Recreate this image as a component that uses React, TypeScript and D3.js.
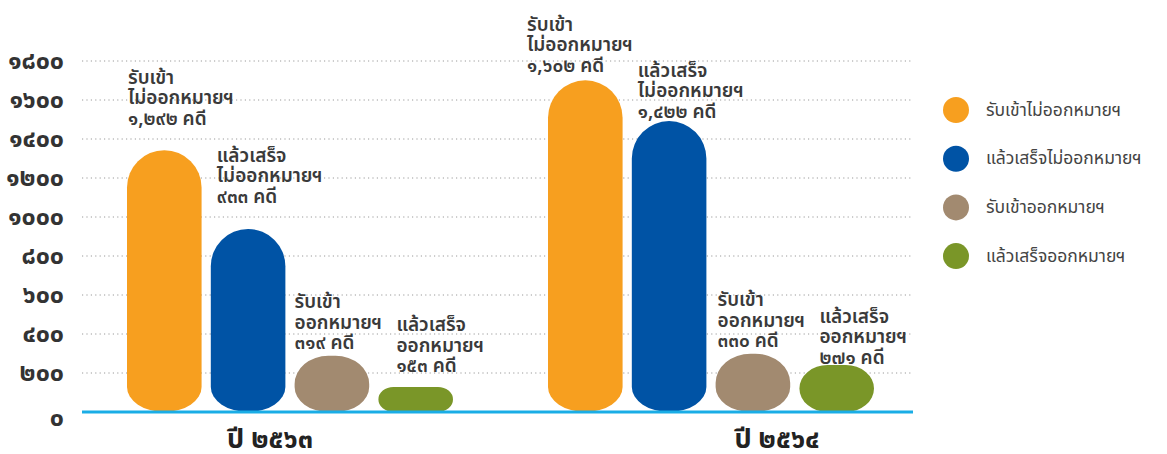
import React from 'react';
import * as d3 from 'd3';

// ---- data ----
const years = ['2563', '2564'];
const yearLabels = ['ปี ๒๕๖๓', 'ปี ๒๕๖๔'];
const seriesNames = ['รับเข้าไม่ออกหมายฯ', 'แล้วเสร็จไม่ออกหมายฯ', 'รับเข้าออกหมายฯ', 'แล้วเสร็จออกหมายฯ'];
const seriesLines = [
  ['รับเข้า', 'ไม่ออกหมายฯ'],
  ['แล้วเสร็จ', 'ไม่ออกหมายฯ'],
  ['รับเข้า', 'ออกหมายฯ'],
  ['แล้วเสร็จ', 'ออกหมายฯ'],
];
const values2563 = [1292, 933, 319, 153];
const values2564 = [1602, 1422, 330, 271];
const yTicks = [0, 200, 400, 600, 800, 1000, 1200, 1400, 1600, 1800];

// ---- styling / layout ----
const colors = ['#F79F1F', '#0053A5', '#A28A70', '#7A9628'];
const labelDx = [[1, 6, 0, 18], [-21, 6, 2, 20]];
const labelDy = [[-31, -32, -12, -20], [-14, -9, -12, -7]];
const yearLabelDx = [-20, 66];

const W = 1167;
const H = 454;
const FONT = "'Noto Sans Thai', 'Noto Sans Thai UI', Loma, Garuda, Tahoma, 'Noto Sans', sans-serif";

const thaiDigits = '๐๑๒๓๔๕๖๗๘๙';
const toThai = (s: string) => s.replace(/[0-9]/g, (c) => thaiDigits[+c]);

function pill(x: number, y: number, w: number, h: number) {
  const rx = Math.min(w / 2, h * 0.6);
  const rt = Math.min(w / 2, h / 2);
  const rb = Math.min(25, h / 2);
  return `M${x},${y + rt}A${rx},${rt} 0 0 1 ${x + rx},${y}L${x + w - rx},${y}A${rx},${rt} 0 0 1 ${x + w},${y + rt}` +
    `L${x + w},${y + h - rb}A${rx},${rb} 0 0 1 ${x + w - rx},${y + h}L${x + rx},${y + h}A${rx},${rb} 0 0 1 ${x},${y + h - rb}Z`;
}

export default function App() {
  const allValues = [values2563, values2564];
  const x0 = d3.scaleBand<string>().domain(years).range([127, 874]).paddingInner(0.2257).paddingOuter(0);
  const x1 = d3.scaleBand<string>().domain(seriesNames).range([0, x0.bandwidth()]).paddingInner(0.11).paddingOuter(0);
  const yGrid = d3.scaleLinear().domain([0, 1800]).range([412, 61]);
  // the infographic's bars follow a slightly non-linear height mapping
  const barH = d3.scalePow().exponent(1.1).domain([0, 1800]).range([0, 377]);
  const fmt = d3.format(',');
  const base = yGrid(0);

  return (
    <svg width={W} height={H} style={{ position: 'absolute', left: 0, top: 0, background: '#fff' }} fontFamily={FONT}>
      {/* grid */}
      {yTicks.map((t) => (
        <g key={t}>
          {t > 0 && (
            <line x1={82} x2={912} y1={yGrid(t)} y2={yGrid(t)} stroke="#9a9a9a" strokeWidth={1} strokeDasharray="1.2 3.2" />
          )}
          <text x={64} y={yGrid(t)} dy={t === 0 ? 6 : 0} textAnchor="end" dominantBaseline="central"
            fontSize={25} fontWeight={700} fill="#333">
            {toThai(String(t))}
          </text>
        </g>
      ))}
      {/* bars */}
      {years.map((yr, gi) => (
        <g key={yr}>
          {seriesNames.map((s, si) => {
            const v = allValues[gi][si];
            const bx = (x0(yr) as number) + (x1(s) as number);
            const bw = x1.bandwidth();
            const h = barH(v);
            const top = base - h;
            const lines = [...seriesLines[si], `${toThai(fmt(v))} คดี`];
            const lh = 20.5;
            return (
              <g key={s}>
                <path d={pill(bx, top, bw, h)} fill={colors[si]} />
                {lines.map((ln, li) => (
                  <text key={li} x={bx + labelDx[gi][si]} y={top + labelDy[gi][si] - (lines.length - 1 - li) * lh}
                    dominantBaseline="central" fontSize={19} fontWeight={600} fill="#3a3a3a">{ln}</text>
                ))}
              </g>
            );
          })}
          <text x={(x0(yr) as number) + x0.bandwidth() / 2 + yearLabelDx[gi]} y={448} textAnchor="middle"
            fontSize={27} fontWeight={700} fill="#222">{yearLabels[gi]}</text>
        </g>
      ))}
      {/* baseline */}
      <line x1={82} x2={913} y1={base} y2={base} stroke="#1AADE6" strokeWidth={3} />
      {/* legend */}
      {seriesNames.map((s, i) => (
        <g key={s} transform={`translate(956,${110 + i * 48.7})`}>
          <circle r={13} fill={colors[i]} />
          <text x={30} y={0} dominantBaseline="central" fontSize={17.5} fill="#444">{s}</text>
        </g>
      ))}
    </svg>
  );
}
